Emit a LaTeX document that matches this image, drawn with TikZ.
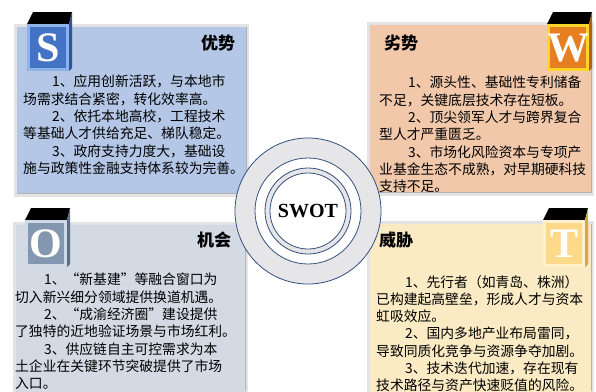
\documentclass[tikz,border=0pt]{standalone}
\usepackage{fontspec}
\setmainfont{Liberation Serif}
\newfontfamily\cjk{Noto Sans CJK SC}
\usetikzlibrary{positioning}
\definecolor{sfill}{HTML}{B4C7E7}
\definecolor{wfill}{HTML}{F2C8AA}
\definecolor{ofill}{HTML}{D3DAE4}
\definecolor{tfill}{HTML}{FAEBC4}
\definecolor{sface}{HTML}{4472C4}
\definecolor{sedge}{HTML}{8DB3E8}
\definecolor{sside}{HTML}{2E5597}
\definecolor{wface}{HTML}{E67E22}
\definecolor{wedge}{HTML}{FFD52A}
\definecolor{wside}{HTML}{B8600F}
\definecolor{oface}{HTML}{8497B0}
\definecolor{oedge}{HTML}{D0D9E6}
\definecolor{oside}{HTML}{5B6E88}
\definecolor{tface}{HTML}{FFD98A}
\definecolor{tedge}{HTML}{FFF1CC}
\definecolor{tside}{HTML}{D9A845}
\definecolor{ringline}{HTML}{34507E}
\definecolor{ringgray}{HTML}{E6E6E8}
\newcommand{\ind}{\hspace*{2.1em}}
\tikzset{
  panel/.style={draw=gray!22, line width=3pt},
  bodytext/.style={anchor=north west, inner sep=0pt, align=left,
    font=\cjk\fontsize{13.8}{17.3}\selectfont},
  heading/.style={inner sep=0pt, font=\cjk\bfseries\fontsize{17}{17}\selectfont},
  bigletter/.style={inner sep=0pt, text=white, font=\bfseries\fontsize{42}{42}\selectfont},
  ring/.style={draw=ringline, line width=0.8pt}
}
\newcommand{\lettercube}[6]{%
  \fill[black] (#1,#2) -- ++(6,-12) -- ++(39,0) -- ++(-3,12) -- cycle;
  \fill[#5] (#1+42,#2) -- ++(3,-12) -- ++(0,56) -- ++(-3,3) -- cycle;
  \fill[#4] (#1,#2) rectangle ++(42,47);
  \fill[#3] (#1+3,#2+3) rectangle ++(36,41);
  \node[bigletter] (#6) at (#1+21,#2+24) {#6};
}

\begin{document}
\begin{tikzpicture}[x=1pt, y=-1pt]
    \useasboundingbox (0,0) rectangle (596,391);

    \draw[panel, fill=sfill] (15.5,25.5) rectangle (247.5,195.5);
    \draw[panel, fill=wfill] (368.5,23.5) rectangle (592.5,194.5);
    \draw[panel, fill=ofill] (14.5,223.5) rectangle (246.5,400);
    \draw[panel, fill=tfill] (368.5,222.5) rectangle (592.5,400);
    \draw[gray!60, line width=1pt] (17,193.5) -- (246,193.5) -- (246,27);
    \draw[gray!60, line width=1pt] (370,192.5) -- (591,192.5) -- (591,25);
    \draw[gray!60, line width=1pt] (245,225) -- (245,391);
    \draw[gray!60, line width=1pt] (591,224) -- (591,391);

    \lettercube{27}{24}{sface}{sedge}{sside}{S}
    \lettercube{547}{24}{wface}{wedge}{wside}{W}
    \lettercube{25}{220}{oface}{oedge}{oside}{O}
    \lettercube{543}{220}{tface}{tedge}{tside}{T}

    \node[heading] (s_title) at (218,43) {优势};
    \node[heading] (w_title) at (401,43) {劣势};
    \node[heading] (o_title) at (214,240) {机会};
    \node[heading] (t_title) at (396,240) {威胁};

    \node[bodytext] (s_text) at (23,75) {\ind 1、应用创新活跃，与本地市\\场需求结合紧密，转化效率高。\\\ind 2、依托本地高校，工程技术\\等基础人才供给充足、梯队稳定。\\\ind 3、政府支持力度大，基础设\\施与政策性金融支持体系较为完善。};
    \node[bodytext] (w_text) at (379,76) {\ind 1、源头性、基础性专利储备\\不足，关键底层技术存在短板。\\\ind 2、顶尖领军人才与跨界复合\\型人才严重匮乏。\\\ind 3、市场化风险资本与专项产\\业基金生态不成熟，对早期硬科技\\支持不足。};
    \node[bodytext] (o_text) at (15,273) {\ind 1、“新基建”等融合窗口为\\切入新兴细分领域提供换道机遇。\\\ind 2、“成渝经济圈”建设提供\\了独特的近地验证场景与市场红利。\\\ind 3、供应链自主可控需求为本\\土企业在关键环节突破提供了市场\\入口。};
    \node[bodytext] (t_text) at (376,275) {\ind 1、先行者（如青岛、株洲）\\已构建起高壁垒，形成人才与资本\\虹吸效应。\\\ind 2、国内多地产业布局雷同，\\导致同质化竞争与资源争夺加剧。\\\ind 3、技术迭代加速，存在现有\\技术路径与资产快速贬值的风险。};

    \coordinate (hub) at (308,211);
    \draw[ring, fill=ringgray] (hub) circle (73);
    \draw[ring, fill=white] (hub) circle (53);
    \draw[ring, fill=ringgray] (hub) circle (43);
    \draw[ring, fill=white] (hub) circle (38);
    \node[inner sep=0pt, font=\bfseries\fontsize{20}{20}\selectfont] (swot) at (hub) {SWOT};
\end{tikzpicture}
\end{document}
